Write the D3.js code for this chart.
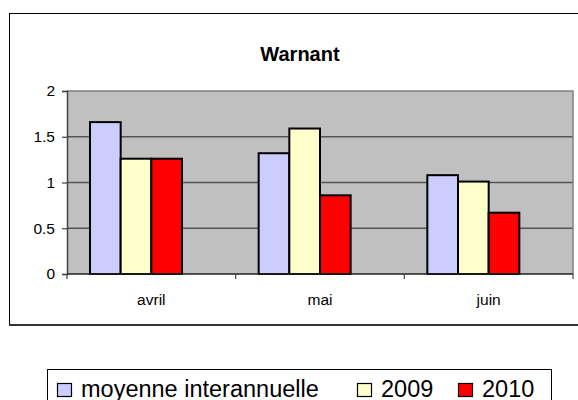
<!DOCTYPE html>
<html>
<head>
<meta charset="utf-8">
<script src="https://cdn.jsdelivr.net/npm/d3@7/dist/d3.min.js"></script>
<style>
  html, body { margin: 0; padding: 0; background: #fff; }
  svg { display: block; }
  text { font-family: "Liberation Sans", Arial, sans-serif; fill: #000; }
</style>
</head>
<body>
<svg id="chart" width="578" height="400"></svg>
<script>
const categories = ["avril", "mai", "juin"];
const seriesNames = ["moyenne interannuelle", "2009", "2010"];
const seriesColors = ["#ccccff", "#ffffcc", "#ff0000"];
const moyenne = [1.66, 1.32, 1.08];
const v2009 = [1.26, 1.59, 1.01];
const v2010 = [1.26, 0.86, 0.67];
const yTicks = [0, 0.5, 1, 1.5, 2];
const titleText = "Warnant";

const values = [moyenne, v2009, v2010];

const svg = d3.select("#chart");

// outer chart frame (right side runs off the canvas)
svg.append("rect")
  .attr("x", 9.5).attr("y", 13.5)
  .attr("width", 600).attr("height", 311)
  .attr("fill", "#fff").attr("stroke", "#000").attr("stroke-width", 1);
svg.append("line")
  .attr("x1", 9).attr("x2", 578).attr("y1", 325).attr("y2", 325)
  .attr("stroke", "#333").attr("stroke-width", 2);

const plot = { left: 67, right: 573, top: 91, bottom: 274 };

const x0 = d3.scaleBand().domain(categories).range([plot.left, plot.right]).padding(0);
// four slots per category (fourth slot empty, as in the source chart)
const slots = seriesNames.concat([""]);
const x1 = d3.scaleBand().domain(slots).range([0, x0.bandwidth()])
  .paddingInner(0).paddingOuter(0.75);
const y = d3.scaleLinear().domain([0, 2]).range([plot.bottom, plot.top]);

// plot background
svg.append("rect")
  .attr("x", plot.left).attr("y", plot.top)
  .attr("width", plot.right - plot.left).attr("height", plot.bottom - plot.top)
  .attr("fill", "#c0c0c0");

// gridlines
svg.append("g").selectAll("line")
  .data(yTicks.filter(t => t > 0 && t < 2))
  .join("line")
  .attr("x1", plot.left).attr("x2", plot.right)
  .attr("y1", d => y(d)).attr("y2", d => y(d))
  .attr("stroke", "#555").attr("stroke-width", 1.5);

// plot border (top / right)
svg.append("path")
  .attr("d", `M${plot.left},${plot.top}H${plot.right}V${plot.bottom}`)
  .attr("fill", "none").attr("stroke", "#808080").attr("stroke-width", 1.5);

// bars
const g = svg.append("g");
categories.forEach((c, ci) => {
  seriesNames.forEach((s, si) => {
    const v = values[si][ci];
    g.append("rect")
      .attr("x", x0(c) + x1(s))
      .attr("y", y(v))
      .attr("width", x1.bandwidth())
      .attr("height", y(0) - y(v))
      .attr("fill", seriesColors[si])
      .attr("stroke", "#000").attr("stroke-width", 2);
  });
});

// y axis
const yAxis = d3.axisLeft(y).tickValues(yTicks).tickSize(5).tickPadding(7)
  .tickFormat(d => String(d));
const ya = svg.append("g").attr("transform", `translate(${plot.left},0)`).call(yAxis);
ya.select(".domain").attr("stroke", "#444").attr("stroke-width", 1.5);
ya.selectAll(".tick line").attr("stroke", "#444").attr("stroke-width", 1.2);
ya.selectAll(".tick text")
  .style("font-family", '"Liberation Sans", Arial, sans-serif')
  .style("font-size", "15.5px").attr("fill", "#000");

// x axis
const xa = svg.append("g").attr("transform", `translate(0,${plot.bottom})`);
xa.append("line").attr("x1", plot.left).attr("x2", plot.right)
  .attr("stroke", "#222").attr("stroke-width", 1.5);
const boundaries = categories.map(c => x0(c)).concat([x0(categories[categories.length - 1]) + x0.bandwidth()]);
xa.selectAll("line.tk").data(boundaries).join("line").attr("class", "tk")
  .attr("x1", d => d).attr("x2", d => d).attr("y1", 0).attr("y2", 5)
  .attr("stroke", "#444").attr("stroke-width", 1.2);
xa.selectAll("text").data(categories).join("text")
  .attr("x", d => x0(d) + x0.bandwidth() / 2)
  .attr("y", 31)
  .attr("text-anchor", "middle")
  .style("font-size", "15.5px")
  .text(d => d);

// title
svg.append("text")
  .attr("x", 300).attr("y", 61)
  .attr("text-anchor", "middle")
  .style("font-size", "20px").style("font-weight", "bold")
  .text(titleText);

// legend
const lg = svg.append("g");
lg.append("rect")
  .attr("x", 47.5).attr("y", 369.5).attr("width", 504).attr("height", 40)
  .attr("fill", "#fff").attr("stroke", "#000").attr("stroke-width", 1);
const legendX = [57, 357, 458];
seriesNames.forEach((s, i) => {
  lg.append("rect")
    .attr("x", legendX[i] + 0.5).attr("y", 383.5)
    .attr("width", 14).attr("height", 13)
    .attr("fill", seriesColors[i]).attr("stroke", "#000").attr("stroke-width", 1.2);
  lg.append("text")
    .attr("x", legendX[i] + 24).attr("y", 396.5)
    .style("font-size", "23.5px")
    .text(s);
});
</script>
</body>
</html>
